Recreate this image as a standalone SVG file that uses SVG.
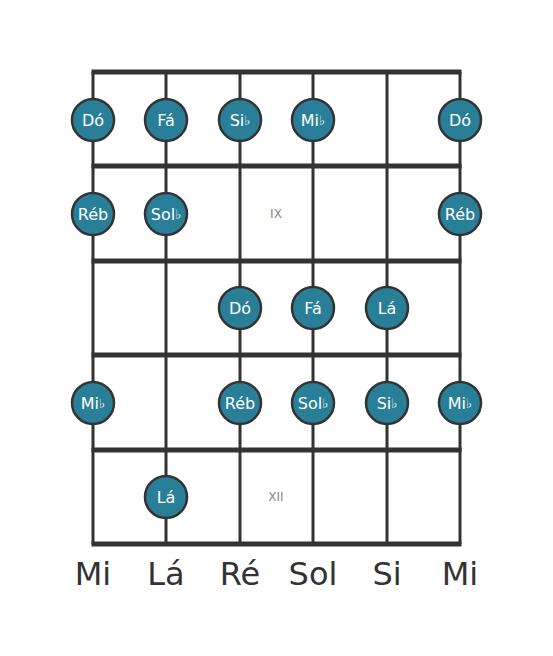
<svg xmlns="http://www.w3.org/2000/svg" width="553" height="656" viewBox="0 0 553 656">
<style>
.fret{stroke:#333;stroke-width:5;stroke-linecap:butt}
.str{stroke:#333;stroke-width:3}
.dot circle{fill:#2a7f98;stroke:#333;stroke-width:2.5}
.dot text{fill:#fff;font-family:"DejaVu Sans",sans-serif;font-size:16px;text-anchor:middle;dominant-baseline:central}
.fl{font-size:13px}
.lbl{fill:#333;font-family:"DejaVu Sans",sans-serif;font-size:32px;text-anchor:middle}
.pos{fill:#888;font-family:"DejaVu Sans",sans-serif;font-size:12px;text-anchor:middle;dominant-baseline:central}
</style>
<rect width="553" height="656" fill="#fff"/>
<g id="connectors">
<line class="str" x1="93" y1="72" x2="93" y2="544"/>
<line class="str" x1="166" y1="72" x2="166" y2="544"/>
<line class="str" x1="240" y1="72" x2="240" y2="544"/>
<line class="str" x1="313" y1="72" x2="313" y2="544"/>
<line class="str" x1="387" y1="72" x2="387" y2="544"/>
<line class="str" x1="460" y1="72" x2="460" y2="544"/>
<line class="fret" x1="91.5" y1="72" x2="461.5" y2="72"/>
<line class="fret" x1="91.5" y1="166" x2="461.5" y2="166"/>
<line class="fret" x1="91.5" y1="261" x2="461.5" y2="261"/>
<line class="fret" x1="91.5" y1="355" x2="461.5" y2="355"/>
<line class="fret" x1="91.5" y1="450" x2="461.5" y2="450"/>
<line class="fret" x1="91.5" y1="544" x2="461.5" y2="544"/>
</g>
<text class="pos" x="276" y="214">IX</text>
<text class="pos" x="276" y="497">XII</text>
<g id="n1" class="dot"><circle cx="93" cy="120" r="21"/><text x="93" y="120">Dó</text></g>
<g id="n2" class="dot"><circle cx="166" cy="120" r="21"/><text x="166" y="120">Fá</text></g>
<g id="n3" class="dot"><circle cx="240" cy="120" r="21"/><text x="240" y="120">Si<tspan class="fl">♭</tspan></text></g>
<g id="n4" class="dot"><circle cx="313" cy="120" r="21"/><text x="313" y="120">Mi<tspan class="fl">♭</tspan></text></g>
<g id="n5" class="dot"><circle cx="460" cy="120" r="21"/><text x="460" y="120">Dó</text></g>
<g id="n6" class="dot"><circle cx="93" cy="214" r="21"/><text x="93" y="214">Réb</text></g>
<g id="n7" class="dot"><circle cx="166" cy="214" r="21"/><text x="166" y="214">Sol<tspan class="fl">♭</tspan></text></g>
<g id="n8" class="dot"><circle cx="460" cy="214" r="21"/><text x="460" y="214">Réb</text></g>
<g id="n9" class="dot"><circle cx="240" cy="308" r="21"/><text x="240" y="308">Dó</text></g>
<g id="n10" class="dot"><circle cx="313" cy="308" r="21"/><text x="313" y="308">Fá</text></g>
<g id="n11" class="dot"><circle cx="387" cy="308" r="21"/><text x="387" y="308">Lá</text></g>
<g id="n12" class="dot"><circle cx="93" cy="403" r="21"/><text x="93" y="403">Mi<tspan class="fl">♭</tspan></text></g>
<g id="n13" class="dot"><circle cx="240" cy="403" r="21"/><text x="240" y="403">Réb</text></g>
<g id="n14" class="dot"><circle cx="313" cy="403" r="21"/><text x="313" y="403">Sol<tspan class="fl">♭</tspan></text></g>
<g id="n15" class="dot"><circle cx="387" cy="403" r="21"/><text x="387" y="403">Si<tspan class="fl">♭</tspan></text></g>
<g id="n16" class="dot"><circle cx="460" cy="403" r="21"/><text x="460" y="403">Mi<tspan class="fl">♭</tspan></text></g>
<g id="n17" class="dot"><circle cx="166" cy="497" r="21"/><text x="166" y="497">Lá</text></g>
<text class="lbl" x="93" y="585">Mi</text>
<text class="lbl" x="166" y="585">Lá</text>
<text class="lbl" x="240" y="585">Ré</text>
<text class="lbl" x="313" y="585">Sol</text>
<text class="lbl" x="387" y="585">Si</text>
<text class="lbl" x="460" y="585">Mi</text>
</svg>
